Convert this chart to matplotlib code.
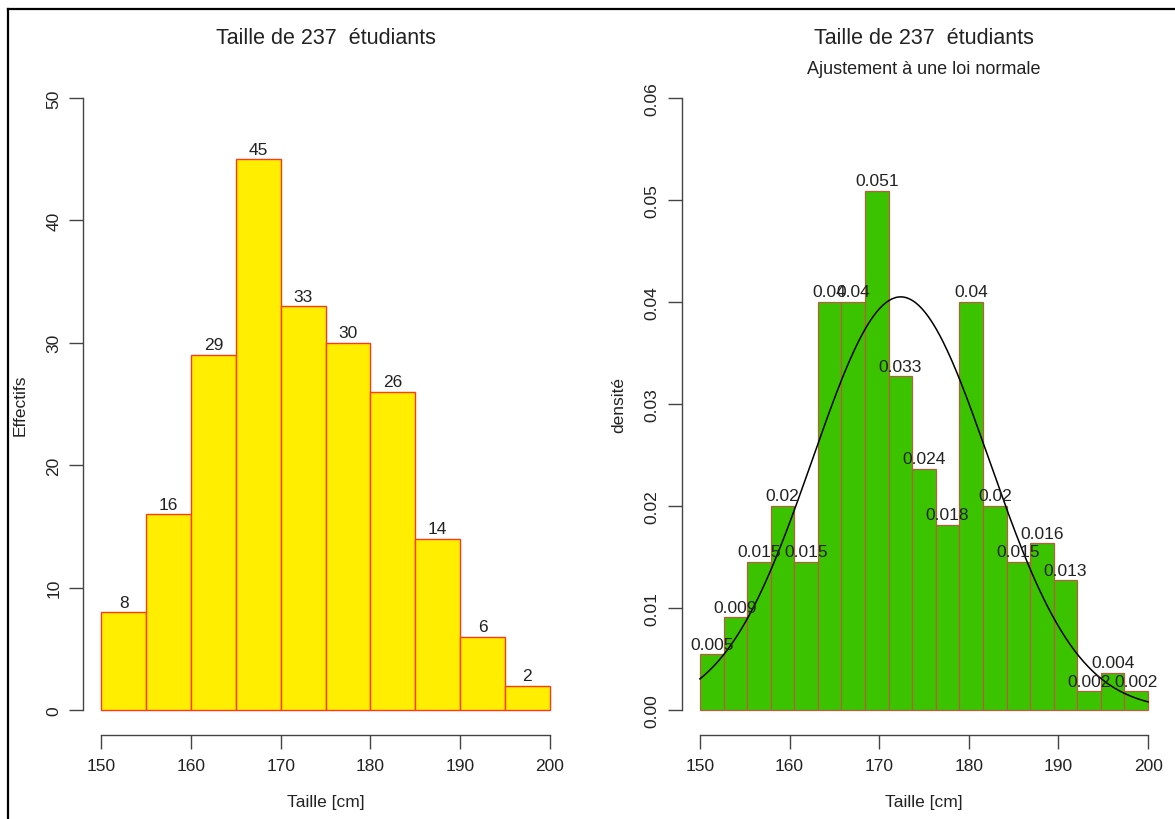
import matplotlib
matplotlib.use('Agg')
import matplotlib.pyplot as plt
from matplotlib.lines import Line2D
import numpy as np

plt.rcParams['font.family'] = ['Liberation Sans', 'DejaVu Sans']

# left histogram: counts per 5 cm class
edges_left = [150, 155, 160, 165, 170, 175, 180, 185, 190, 195, 200]
counts_left = [8, 16, 29, 45, 33, 30, 26, 14, 6, 2]

# right histogram: 19 classes between 150 and 200, density scale
n_bins_right = 19
dens_right = [0.00545, 0.00909, 0.01455, 0.02, 0.01455, 0.04, 0.04, 0.05091,
              0.03273, 0.02364, 0.01818, 0.04, 0.02, 0.01455, 0.01636,
              0.01273, 0.00182, 0.00364, 0.00182]
fit_mean = 172.4
fit_sd = 9.85

title = "Taille de 237  étudiants"
subtitle = "Ajustement à une loi normale"
xticks = [150, 160, 170, 180, 190, 200]
yticks_left = [0, 10, 20, 30, 40, 50]
yticks_right = [0.00, 0.01, 0.02, 0.03, 0.04, 0.05, 0.06]

W, H = 1175, 820
fig = plt.figure(figsize=(W / 100, H / 100), dpi=100)
fig.patch.set_facecolor('white')


def px_axes(x0, x1, y0, y1):
    # pixel box (top origin) -> figure fraction
    return fig.add_axes([x0 / W, 1 - y1 / H, (x1 - x0) / W, (y1 - y0) / H])


def r_style(ax, yt, ylab, fmt):
    for s in ['top', 'right']:
        ax.spines[s].set_visible(False)
    for s in ['left', 'bottom']:
        ax.spines[s].set_color('#444444')
        ax.spines[s].set_linewidth(1.0)
    ax.spines['bottom'].set_bounds(150, 200)
    ax.spines['left'].set_bounds(yt[0], yt[-1])
    ax.set_xticks(xticks)
    ax.set_yticks(yt)
    ax.set_yticklabels([fmt(v) for v in yt], rotation=90, va='center')
    ax.tick_params(length=10, width=1.0, color='#444444', labelsize=12.5,
                   labelcolor='#222222')
    ax.tick_params(axis='x', pad=7)
    ax.tick_params(axis='y', pad=6)
    ax.set_xlabel('Taille [cm]', fontsize=12.5, color='#222222')
    ax.xaxis.label.set_va('center')
    ax.xaxis.set_label_coords(0.5, -0.102)
    ax.set_ylabel(ylab, fontsize=12.5, color='#222222')
    ax.yaxis.label.set_va('center')
    ax.yaxis.set_label_coords(-0.131, 0.5)


# ---- left panel
ax = px_axes(83.4, 567.7, 74.5, 735.5)
ax.set_xlim(148, 202)
ax.set_ylim(-2, 52)
widths = np.diff(edges_left)
ax.bar(edges_left[:-1], counts_left, width=widths, align='edge',
       color='#FFEE00', edgecolor='#FF3A1A', linewidth=1.0)
for x, w, c in zip(edges_left[:-1], widths, counts_left):
    ax.annotate(str(c), (x + w / 2, c), xytext=(0, 4), textcoords='offset points',
                ha='center', va='baseline', fontsize=12.5, color='#222222')
r_style(ax, yticks_left, 'Effectifs', lambda v: str(v))
fig.text(325.5 / W, 1 - 38 / H, title, fontsize=15.5, color='#222222',
         ha='center', va='center')

# ---- right panel
ax2 = px_axes(682, 1166, 74.5, 735.5)
ax2.set_xlim(148, 202)
ax2.set_ylim(-0.0024, 0.0624)
edges_right = np.linspace(150, 200, n_bins_right + 1)
w2 = np.diff(edges_right)
ax2.bar(edges_right[:-1], dens_right, width=w2, align='edge',
        color='#3CC300', edgecolor='#B0603A', linewidth=0.9)
for x, w, d in zip(edges_right[:-1], w2, dens_right):
    ax2.annotate(f"{round(d, 3):g}", (x + w / 2, d), xytext=(0, 4),
                 textcoords='offset points', ha='center', va='baseline',
                 fontsize=12.5, color='#222222')
xs = np.linspace(150, 200, 300)
ys = np.exp(-0.5 * ((xs - fit_mean) / fit_sd) ** 2) / (fit_sd * np.sqrt(2 * np.pi))
ax2.plot(xs, ys, color='black', linewidth=1.1)
r_style(ax2, yticks_right, 'densité', lambda v: f"{v:.2f}")
fig.text(924 / W, 1 - 38 / H, title, fontsize=15.5, color='#222222',
         ha='center', va='center')
fig.text(924 / W, 1 - 69 / H, subtitle, fontsize=13, color='#222222',
         ha='center', va='center')

# frame lines of the original screenshot
fig.add_artist(Line2D([8 / W, 1], [1 - 10 / H, 1 - 10 / H], color='black',
                      linewidth=1.6, transform=fig.transFigure))
fig.add_artist(Line2D([8 / W, 8 / W], [0, 1 - 10 / H], color='black',
                      linewidth=1.6, transform=fig.transFigure))

fig.savefig('out.png', dpi=100)
